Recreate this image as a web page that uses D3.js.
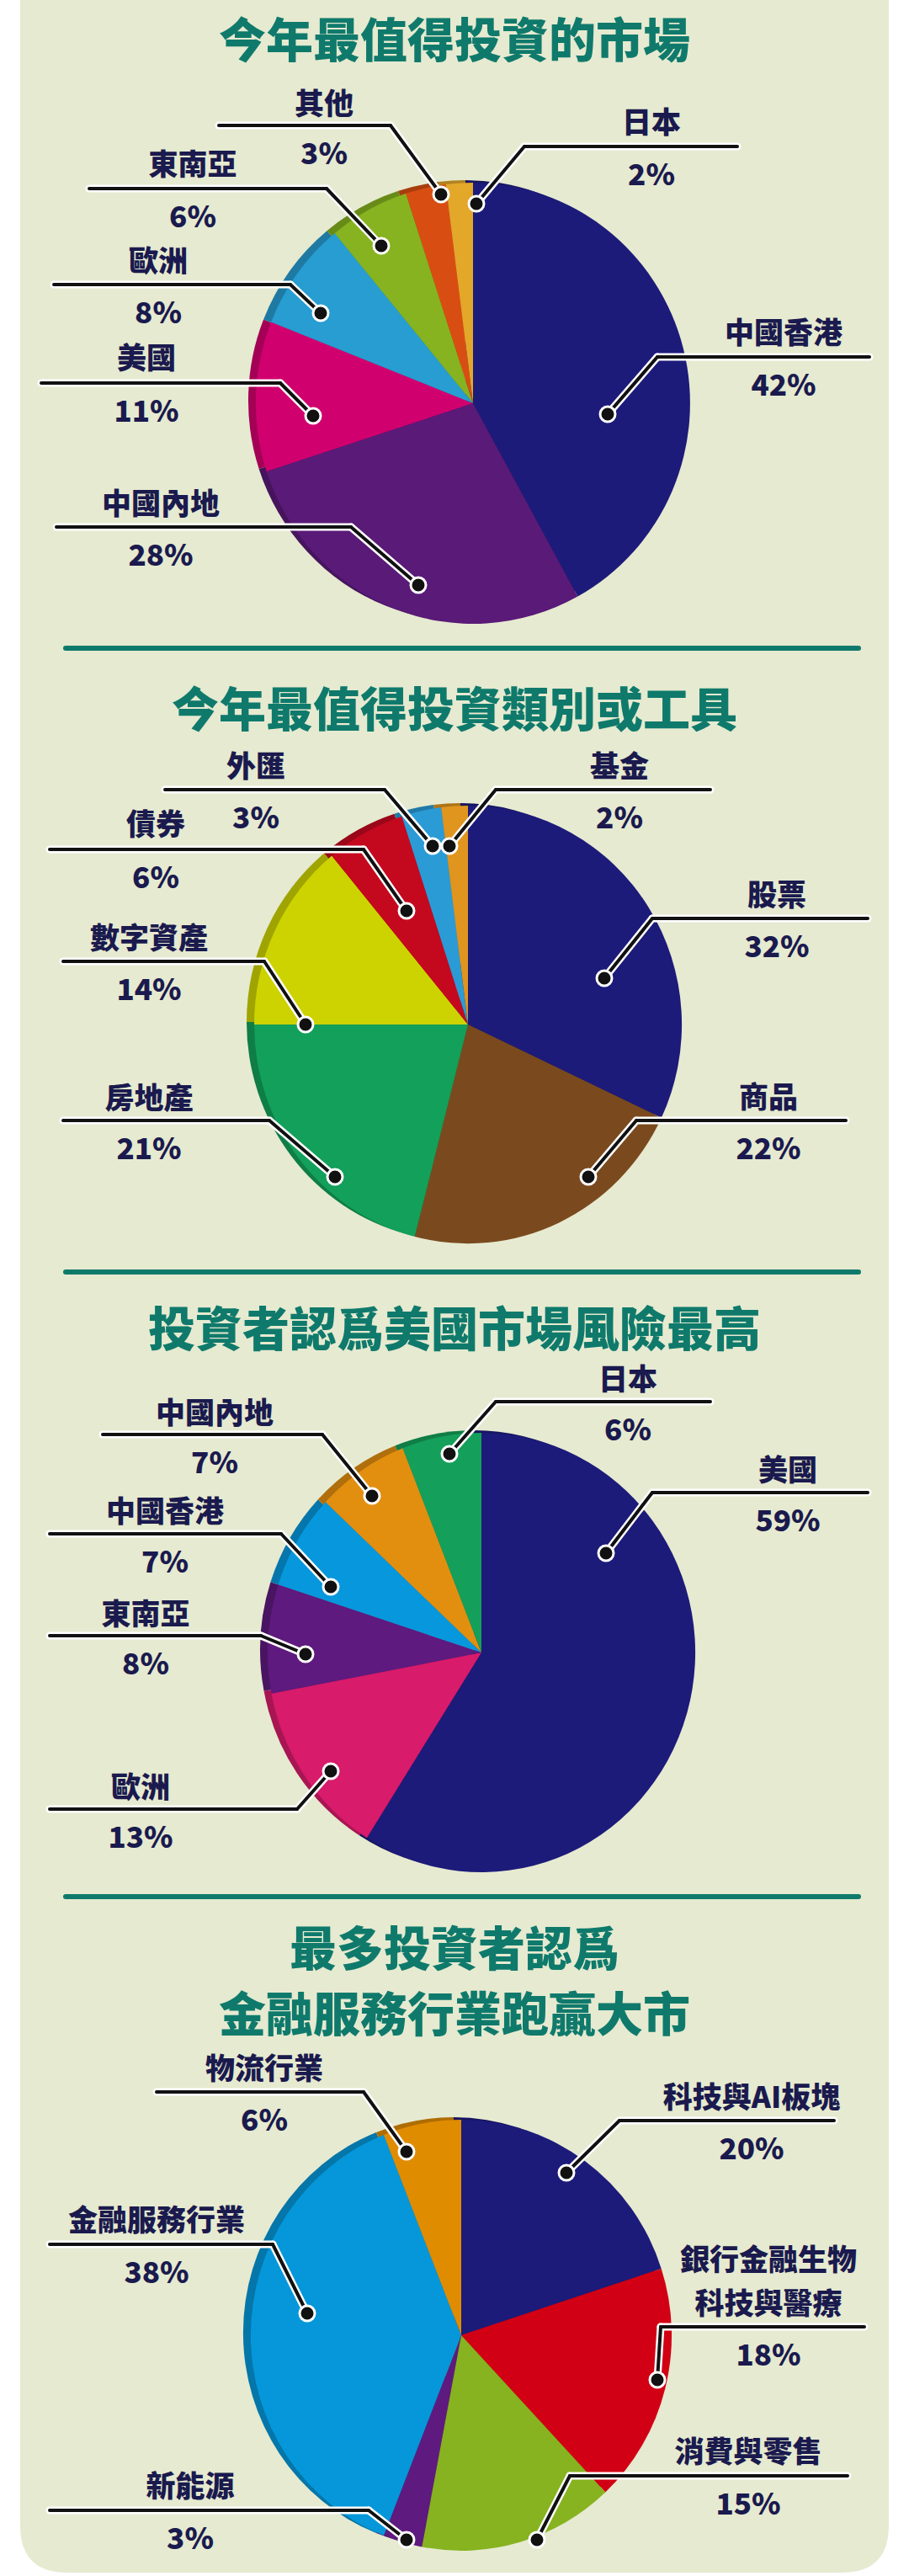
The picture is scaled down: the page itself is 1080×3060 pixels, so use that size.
<!DOCTYPE html>
<head>
  <meta charset="UTF-8">
  <title>investment pies</title>
  <style>
  body{ margin:0; background:#fff; }
  svg text{ font-family:"Noto Sans CJK TC","Noto Sans",sans-serif; font-weight:900; }
  </style>
</head>
<body>
  <script src="https://cdn.jsdelivr.net/npm/d3@7/dist/d3.min.js"></script>
  <script type="text/javascript">
  // data
  var names1 = ['中國香港','中國內地','美國','歐洲','東南亞','其他','日本'];
  var values1 = [42, 28, 11, 8, 6, 3, 2];
  var colors1 = ['#1c1b7a','#5a1a78','#d1006f','#279dd1','#86b31f','#d84e12','#e3a72a'];

  var names2 = ['股票','商品','房地產','數字資產','債券','外匯','基金'];
  var values2 = [32, 22, 21, 14, 6, 3, 2];
  var colors2 = ['#1c1b7a','#7a4a1e','#13a05a','#cdd300','#c4091f','#2b9bd6','#e0951e'];

  var names3 = ['美國','歐洲','東南亞','中國香港','中國內地','日本'];
  var values3 = [59, 13, 8, 7, 7, 6];
  var colors3 = ['#1c1b7a','#d81b6a','#5e1a7e','#0797dc','#e28f10','#14a05a'];

  var names4 = ['科技與AI板塊','銀行金融生物\n科技與醫療','消費與零售','新能源','金融服務行業','物流行業'];
  var values4 = [20, 18, 15, 3, 38, 6];
  var colors4 = ['#1c1b7a','#d20014','#86b31f','#5e1a7e','#0597d9','#e08c00'];

  // layout: text x, name centre y, line y, line x0/x1, which end the leader leaves, dot x/y
  var layout1 = [
    {tx:931,ny:392,ly:424,x0:781,x1:1033,end:0,dx:722,dy:492},
    {tx:191,ny:595,ly:626,x0:67,x1:417,end:1,dx:497,dy:695},
    {tx:174,ny:422,ly:455,x0:49,x1:333,end:1,dx:372,dy:494},
    {tx:188,ny:307,ly:338,x0:64,x1:345,end:1,dx:381,dy:372},
    {tx:229,ny:192,ly:224,x0:106,x1:388,end:1,dx:453,dy:292},
    {tx:385,ny:120,ly:149,x0:260,x1:464,end:1,dx:524,dy:231},
    {tx:774,ny:142,ly:174,x0:623,x1:876,end:0,dx:566,dy:242}
  ];
  var layout2 = [
    {tx:923,ny:1060,ly:1091,x0:775,x1:1031,end:0,dx:718,dy:1162},
    {tx:913,ny:1300,ly:1331,x0:756,x1:1005,end:0,dx:699,dy:1398},
    {tx:177,ny:1301,ly:1331,x0:75,x1:320,end:1,dx:398,dy:1398},
    {tx:177,ny:1111,ly:1142,x0:75,x1:314,end:1,dx:363,dy:1217},
    {tx:185,ny:976,ly:1009,x0:59,x1:432,end:1,dx:483,dy:1082},
    {tx:304,ny:907,ly:938,x0:196,x1:457,end:1,dx:514,dy:1005},
    {tx:736,ny:907,ly:938,x0:589,x1:844,end:0,dx:534,dy:1005}
  ];
  var layout3 = [
    {tx:936,ny:1743,ly:1773,x0:775,x1:1031,end:0,dx:720,dy:1845},
    {tx:167,ny:2120,ly:2149,x0:59,x1:353,end:1,dx:393,dy:2104},
    {tx:173,ny:1914,ly:1943,x0:59,x1:310,end:1,dx:363,dy:1965},
    {tx:196,ny:1792,ly:1822,x0:59,x1:334,end:1,dx:393,dy:1885},
    {tx:255,ny:1675,ly:1704,x0:122,x1:383,end:1,dx:442,dy:1777},
    {tx:746,ny:1635,ly:1665,x0:589,x1:844,end:0,dx:534,dy:1727}
  ];
  var layout4 = [
    {tx:893,ny:2488,ly:2519,x0:736,x1:991,end:0,dx:673,dy:2581},
    {tx:913,ny:2733,ly:2764,x0:785,x1:1027,end:0,dx:781,dy:2827},
    {tx:889,ny:2909,ly:2941,x0:677,x1:1007,end:0,dx:638,dy:3017},
    {tx:226,ny:2950,ly:2982,x0:59,x1:438,end:1,dx:483,dy:3017},
    {tx:186,ny:2634,ly:2666,x0:59,x1:324,end:1,dx:365,dy:2748},
    {tx:314,ny:2454,ly:2485,x0:186,x1:432,end:1,dx:483,dy:2556}
  ];

  var W = 1080, H = 3060;
  var svg = d3.select('body').append('svg').attr('width', W).attr('height', H);

  //底板
  svg.append('path')
    .attr('d', 'M24,0 H1056 V3000 Q1056,3056 1000,3056 H80 Q24,3056 24,3000 Z')
    .attr('fill', '#e6ead0');

  var teal = '#0f7a6c', navy = '#1a1a4e';

  function title(lines, y){
    lines.forEach(function(t, i){
      svg.append('text').attr('x', 540).attr('y', y + i*78)
        .attr('text-anchor', 'middle').attr('dominant-baseline', 'central')
        .attr('font-size', 56).attr('fill', teal).text(t);
    });
  }
  function sep(y){
    svg.append('line').attr('x1', 78).attr('x2', 1020).attr('y1', y).attr('y2', y)
      .attr('stroke', teal).attr('stroke-width', 6).attr('stroke-linecap', 'round');
  }

  function drawPie(names, values, colors, layout, cx, cy, rx, ry){
    var pie = d3.pie().sort(null).value(function(d){ return d; });
    var arc = d3.arc().innerRadius(0).outerRadius(1);
    var arcs = pie(values);
    // 側面
    var side = svg.append('g').attr('transform', 'translate(' + (cx-9) + ',' + (cy-3) + ') scale(' + rx + ',' + ry + ')');
    side.selectAll('path').data(arcs).enter().append('path')
      .attr('d', arc).attr('fill', function(d, i){ return d3.color(colors[i]).darker(0.7); });
    var top = svg.append('g').attr('transform', 'translate(' + cx + ',' + cy + ') scale(' + rx + ',' + ry + ')');
    top.selectAll('path').data(arcs).enter().append('path')
      .attr('d', arc).attr('fill', function(d, i){ return colors[i]; });

    layout.forEach(function(l, i){
      var ex = l.end ? l.x1 : l.x0;
      var pts = [[l.x0, l.ly], [l.x1, l.ly]];
      var lead = [[ex, l.ly], [l.dx, l.dy]];
      [[9, '#fff'], [4, '#111']].forEach(function(s){
        svg.append('polyline').attr('points', pts.join(' ')).attr('fill', 'none')
          .attr('stroke', s[1]).attr('stroke-width', s[0]).attr('stroke-linecap', 'round');
        svg.append('polyline').attr('points', lead.join(' ')).attr('fill', 'none')
          .attr('stroke', s[1]).attr('stroke-width', s[0]).attr('stroke-linecap', 'round');
      });
      svg.append('circle').attr('cx', l.dx).attr('cy', l.dy).attr('r', 9)
        .attr('fill', '#111').attr('stroke', '#fff').attr('stroke-width', 3);
      var nl = names[i].split('\n');
      nl.forEach(function(t, k){
        svg.append('text').attr('x', l.tx).attr('y', l.ny - (nl.length - 1 - k)*52)
          .attr('text-anchor', 'middle').attr('dominant-baseline', 'central')
          .attr('font-size', 35).attr('fill', navy).text(t);
      });
      svg.append('text').attr('x', l.tx).attr('y', l.ly + 30)
        .attr('text-anchor', 'middle').attr('dominant-baseline', 'central')
        .attr('font-size', 35).attr('fill', navy).text(values[i] + '%');
    });
  }

  title(['今年最值得投資的市場'], 43);
  drawPie(names1, values1, colors1, layout1, 562, 479, 258, 262);
  sep(770);
  title(['今年最值得投資類別或工具'], 838);
  drawPie(names2, values2, colors2, layout2, 556, 1217, 254, 260);
  sep(1511);
  title(['投資者認爲美國市場風險最高'], 1574);
  drawPie(names3, values3, colors3, layout3, 572, 1963, 254, 261);
  sep(2253);
  title(['最多投資者認爲', '金融服務行業跑贏大市'], 2310);
  drawPie(names4, values4, colors4, layout4, 548, 2774, 250, 256);
  </script>
</body>
</html>
